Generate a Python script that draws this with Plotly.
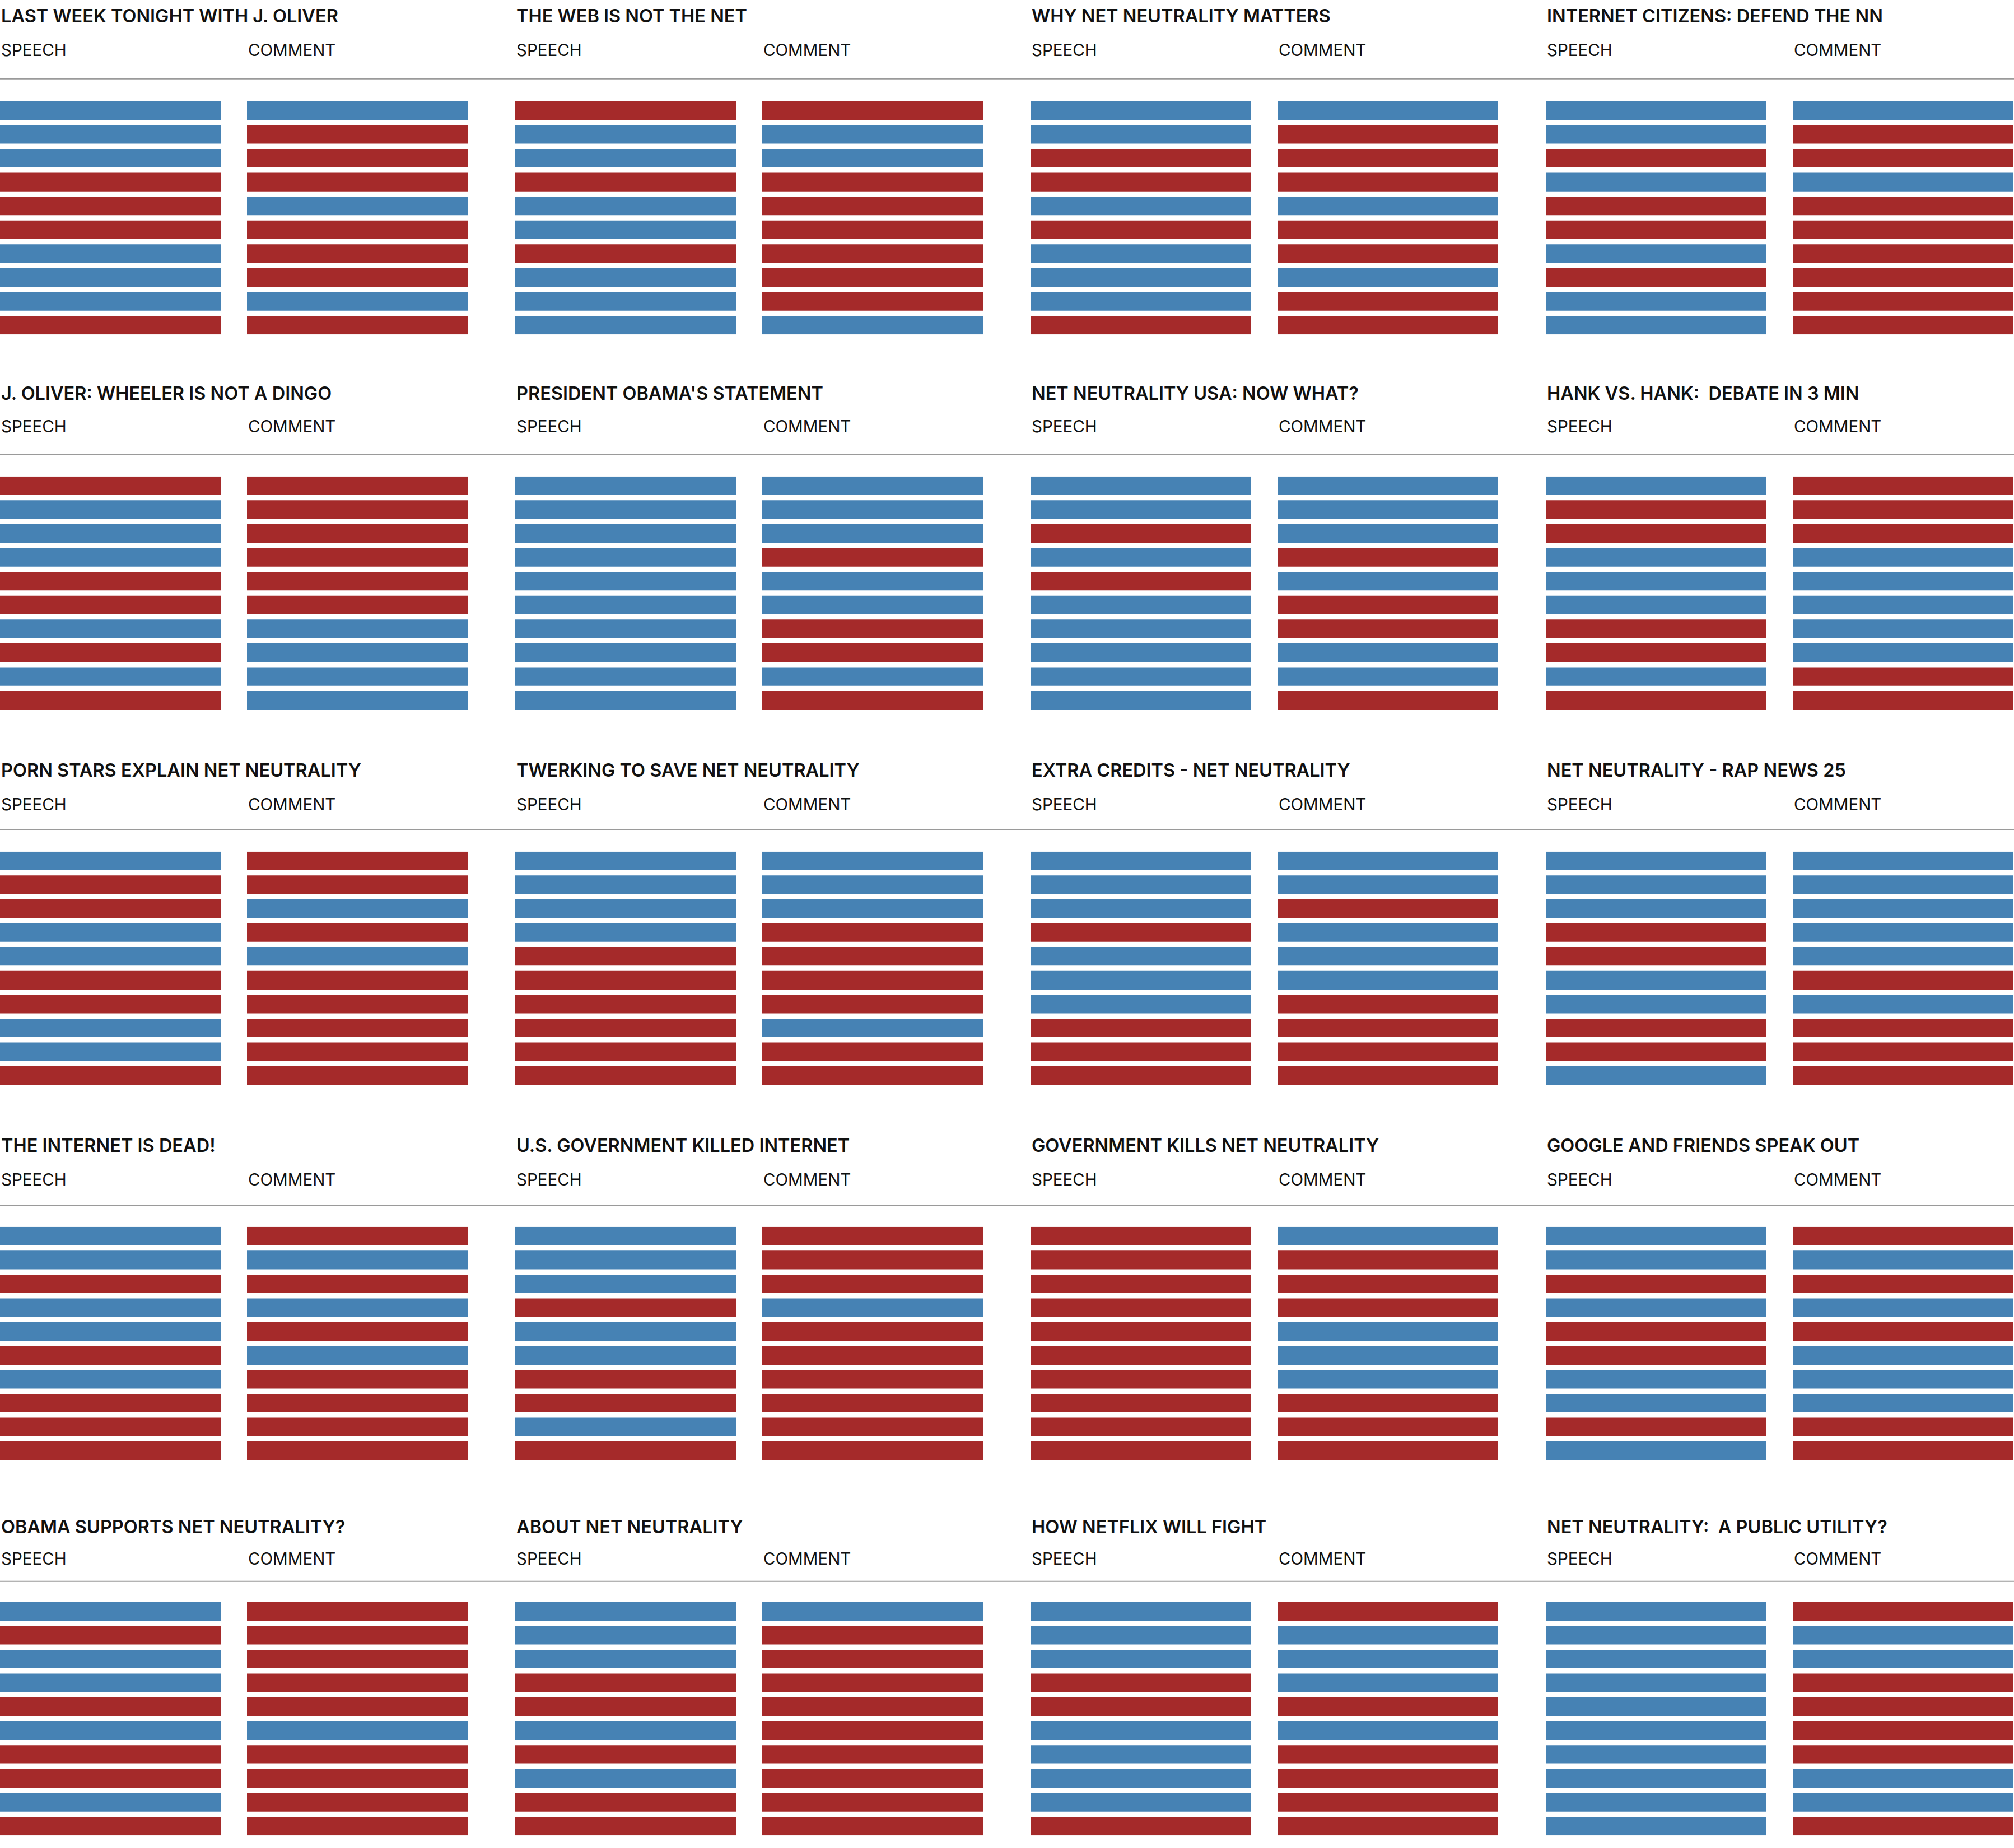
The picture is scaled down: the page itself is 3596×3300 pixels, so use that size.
import plotly.graph_objects as go

# ---------------- data ----------------
TITLES = [
    "LAST WEEK TONIGHT WITH J. OLIVER",
    "THE WEB IS NOT THE NET",
    "WHY NET NEUTRALITY MATTERS",
    "INTERNET CITIZENS: DEFEND THE NN",
    "J. OLIVER: WHEELER IS NOT A DINGO",
    "PRESIDENT OBAMA'S STATEMENT",
    "NET NEUTRALITY USA: NOW WHAT?",
    "HANK VS. HANK:\u00a0 DEBATE IN 3 MIN",
    "PORN STARS EXPLAIN NET NEUTRALITY",
    "TWERKING TO SAVE NET NEUTRALITY",
    "EXTRA CREDITS - NET NEUTRALITY",
    "NET NEUTRALITY - RAP NEWS 25",
    "THE INTERNET IS DEAD!",
    "U.S. GOVERNMENT KILLED INTERNET",
    "GOVERNMENT KILLS NET NEUTRALITY",
    "GOOGLE AND FRIENDS SPEAK OUT",
    "OBAMA SUPPORTS NET NEUTRALITY?",
    "ABOUT NET NEUTRALITY",
    "HOW NETFLIX WILL FIGHT",
    "NET NEUTRALITY:\u00a0 A PUBLIC UTILITY?",
]

# B = blue, R = red ; 10 segments top to bottom
SPEECH = [
    "BBBRRRBBBR", "RBBRBBRBBB", "BBRRBRBBBR", "BBRBRRBRBB",
    "RBBBRRBRBR", "BBBBBBBBBB", "BBRBRBBBBB", "BRRBBBRRBR",
    "BRRBBRRBBR", "BBBBRRRRRR", "BBBRBBBRRR", "BBBRRBBRRB",
    "BBRBBRBRRR", "BBBRBBRRBR", "RRRRRRRRRR", "BBRBRRBBRB",
    "BRBBRBRRBR", "BBBRRBRBRR", "BBBRRBBBBR", "BBBBBBBBBB",
]
COMMENT = [
    "BRRRBRRRBR", "RBBRRRRRRB", "BRRRBRRBRR", "BRRBRRRRRR",
    "RRRRRRBBBB", "BBBRBBRRBR", "BBBRBRRBBR", "RRRBBBBBRR",
    "RRBRBRRRRR", "BBBRRRRBRR", "BBRBBBRRRR", "BBBBBRBRRR",
    "RBRBRBRRRR", "RRRBRRRRRR", "BRRRBBBRRR", "RBRBRBBBRR",
    "RRRRRBRRRR", "BRRRRRRRRR", "RBBBRBRRRR", "RBBRRRRBBR",
]
COLUMN_LABELS = ["SPEECH", "COMMENT"]

# ---------------- styling / geometry ----------------
COLORS = {"B": "#4682B4", "R": "#A52A2A"}
W, H = 3596, 3300
NCOLS = 4
PITCH_X = 920
PANEL_W = 835
BAR_LEN = 394
COMMENT_X0 = 441
PITCH_Y = 670
TITLE_Y = 28
SUB_Y = 89.5
RULE_Y = 140.7
BARS_TOP = 180.7
BARS_BOT = 597.3
BAR_W = 0.78
TITLE_DY = [0, 4, 7, 7, 18]
SUB_DY = [-1, 2, 6, 6, 13]
RULE_DY = [0, 1, 1, 2, 3]
FONT = "Inter"

fig = go.Figure()
annotations = []
shapes = []
layout_axes = {}

for i, title in enumerate(TITLES):
    r, c = divmod(i, NCOLS)
    k = i + 1
    xa = "x" if k == 1 else f"x{k}"
    ya = "y" if k == 1 else f"y{k}"
    x0 = c * PITCH_X
    y_top = r * PITCH_Y

    for seq, base in [(SPEECH[i], 0), (COMMENT[i], COMMENT_X0)]:
        cats = list(seq)
        fig.add_trace(go.Bar(
            orientation="h",
            y=list(range(len(cats))),
            x=[BAR_LEN] * len(cats),
            base=base,
            width=BAR_W,
            marker=dict(color=[COLORS[v] for v in cats], line=dict(width=0)),
            xaxis=xa, yaxis=ya,
            showlegend=False,
            hoverinfo="skip",
        ))

    layout_axes["xaxis" if k == 1 else f"xaxis{k}"] = dict(
        domain=[x0 / W, (x0 + PANEL_W) / W], range=[0, PANEL_W],
        visible=False, fixedrange=True, anchor=ya,
    )
    layout_axes["yaxis" if k == 1 else f"yaxis{k}"] = dict(
        domain=[1 - (y_top + BARS_BOT) / H, 1 - (y_top + BARS_TOP) / H],
        range=[9 + BAR_W / 2, -BAR_W / 2],
        visible=False, fixedrange=True, anchor=xa,
    )

    annotations.append(dict(
        text=title, x=x0 / W, y=1 - (y_top + TITLE_Y + TITLE_DY[r]) / H,
        xref="paper", yref="paper", xanchor="left", yanchor="middle",
        showarrow=False,
        font=dict(family=FONT, size=32.5, color="#111111", weight=600),
    ))
    for lab, off in zip(COLUMN_LABELS, [0, COMMENT_X0]):
        annotations.append(dict(
            text=lab, x=(x0 + off) / W, y=1 - (y_top + SUB_Y + SUB_DY[r]) / H,
            xref="paper", yref="paper", xanchor="left", yanchor="middle",
            showarrow=False,
            font=dict(family=FONT, size=29.5, color="#111111"),
        ))

nrows = (len(TITLES) + NCOLS - 1) // NCOLS
for r in range(nrows):
    y = 1 - (r * PITCH_Y + RULE_Y + RULE_DY[r]) / H
    shapes.append(dict(type="line", xref="paper", yref="paper",
                       x0=0, x1=1, y0=y, y1=y,
                       line=dict(color="#9a9a9a", width=2)))

fig.update_layout(
    width=W, height=H,
    margin=dict(l=0, r=0, t=0, b=0, pad=0),
    paper_bgcolor="white", plot_bgcolor="white",
    barmode="overlay",
    annotations=annotations, shapes=shapes,
    **layout_axes,
)

fig.write_html("out.html")
